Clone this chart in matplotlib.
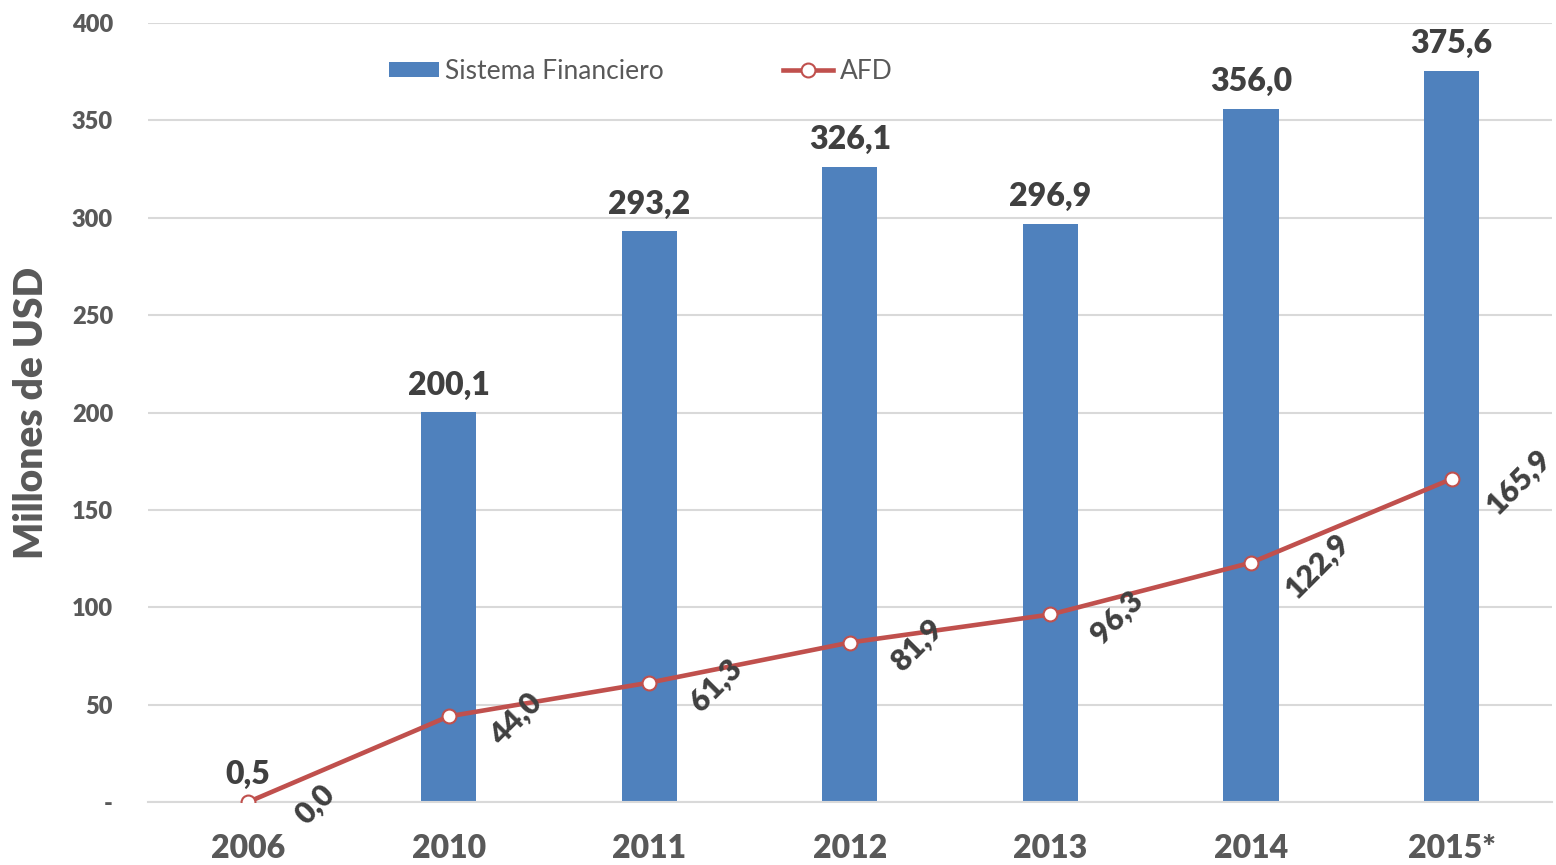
import numpy as np
import matplotlib.pyplot as plt

# datos (millones de USD)
years = ['2006', '2010', '2011', '2012', '2013', '2014', '2015*']
sistema_financiero = [0.5, 200.1, 293.2, 326.1, 296.9, 356.0, 375.6]
afd = [0.0, 44.0, 61.3, 81.9, 96.3, 122.9, 165.9]
yticks = [0, 50, 100, 150, 200, 250, 300, 350, 400]
ytick_labels = ['-', '50', '100', '150', '200', '250', '300', '350', '400']

plt.rcParams['font.family'] = ['Lato', 'DejaVu Sans']

blue = '#4F81BD'
red = '#C0504D'
grey = '#595959'
dark = '#404040'

fig = plt.figure(figsize=(15.56, 8.65), dpi=100)
ax = fig.add_axes([0.095, 0.0728, 0.9024, 0.9006])

x = np.arange(len(years))
bars = ax.bar(x, sistema_financiero, width=0.275, color=blue, zorder=2,
              label='Sistema Financiero')
line, = ax.plot(x, afd, color=red, lw=3.3, marker='o', ms=10, mfc='white',
                mec=red, mew=1.5, zorder=3, label='AFD')

# etiquetas de las barras
for xi, v in zip(x, sistema_financiero):
    ax.annotate(f'{v:.1f}'.replace('.', ','), (xi, v), xytext=(0, 9),
                textcoords='offset points', ha='center', va='bottom',
                fontsize=23, fontweight='heavy', color=dark)

# etiquetas de la linea, giradas 45 grados
for xi, v in zip(x, afd):
    ax.annotate(f'{v:.1f}'.replace('.', ','), (xi, v), xytext=(48, -2),
                textcoords='offset points', ha='center', va='center',
                rotation=45, rotation_mode='anchor',
                fontsize=22, fontweight='heavy', color=dark, zorder=4)

ax.set_xlim(-0.5, len(years) - 0.5)
ax.set_ylim(0, 400)
ax.set_yticks(yticks)
ax.set_yticklabels(ytick_labels)
ax.set_xticks(x)
ax.set_xticklabels(years)
ax.yaxis.grid(True, color='#D9D9D9', lw=1.5, zorder=0)
ax.set_axisbelow(True)
for s in ['top', 'right', 'left']:
    ax.spines[s].set_visible(False)
ax.spines['bottom'].set_color('#D9D9D9')
ax.spines['bottom'].set_linewidth(1.5)
ax.tick_params(axis='both', length=0)
ax.tick_params(axis='y', pad=25, labelsize=17, labelcolor=grey)
ax.tick_params(axis='x', pad=23, labelsize=23, labelcolor=grey)
for t in ax.get_xticklabels() + ax.get_yticklabels():
    t.set_fontweight('heavy')

ax.set_ylabel('Millones de USD', fontsize=28, fontweight='heavy', color=grey,
              labelpad=16)

ax.legend(handles=[bars, line], loc='center left',
          bbox_to_anchor=(0.1545, 0.938), ncol=2, frameon=False,
          fontsize=19, labelcolor=grey, columnspacing=4.5, handlelength=1.9,
          handleheight=0.55, handletextpad=0.25)

fig.savefig('out.png', dpi=100)
